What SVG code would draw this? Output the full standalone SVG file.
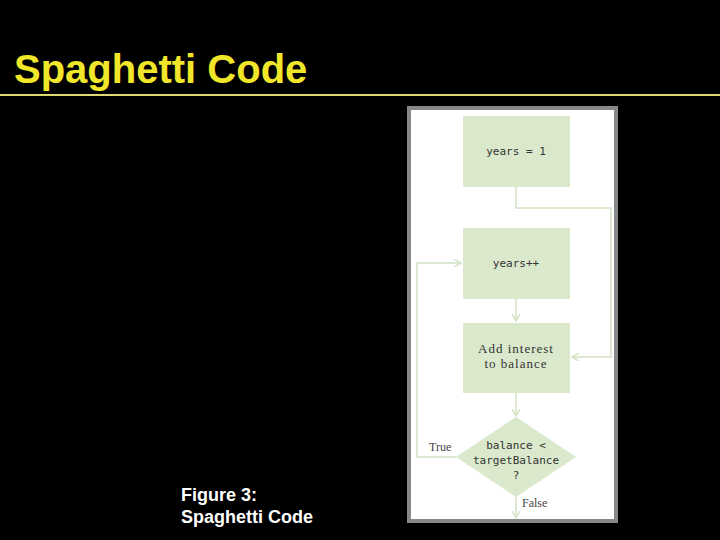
<svg xmlns="http://www.w3.org/2000/svg" width="720" height="540" viewBox="0 0 720 540">
<defs>
<marker id="ah" markerWidth="8" markerHeight="8" refX="7" refY="4" orient="auto" markerUnits="userSpaceOnUse">
<path d="M0,0 L7,4 L0,8" fill="none" stroke="#d3e2c4" stroke-width="1.5"/>
</marker>
<style>
.box{fill:#dae8cc;}
.code{font-family:"DejaVu Sans Mono","Liberation Mono",monospace;font-size:11px;fill:#333;text-anchor:middle;}
.ser{font-family:"Liberation Serif","DejaVu Serif",serif;font-size:13px;fill:#333;text-anchor:middle;letter-spacing:1px;}
.lbl{font-family:"Liberation Serif","DejaVu Serif",serif;font-size:12px;fill:#444;}
.conn{fill:none;stroke:#d3e2c4;stroke-width:1.5;}
</style>
</defs>
<rect width="720" height="540" fill="#000"/>
<text x="14" y="83" font-family="Liberation Sans, Arial, sans-serif" font-weight="bold" font-size="40" fill="#f0e62a">Spaghetti Code</text>
<rect x="0" y="94" width="720" height="2" fill="#e0d870"/>
<text font-family="Liberation Sans, Arial, sans-serif" font-weight="bold" font-size="18" fill="#fff"><tspan x="181" y="501">Figure 3:</tspan><tspan x="181" y="523">Spaghetti Code</tspan></text>
<rect x="409" y="108" width="207" height="413" fill="#fff" stroke="#888" stroke-width="4"/>
<g id="connectors">
<path class="conn" d="M516,187 V208 H611 V357 H572" marker-end="url(#ah)"/>
<path class="conn" d="M516,299 V321" marker-end="url(#ah)"/>
<path class="conn" d="M516,393 V416" marker-end="url(#ah)"/>
<path class="conn" d="M456,457 H417 V263 H461" marker-end="url(#ah)"/>
<path class="conn" d="M516,497 V518" marker-end="url(#ah)"/>
</g>
<g id="n1"><rect class="box" x="463" y="116" width="107" height="71"/><text class="code" x="516" y="155">years = 1</text></g>
<g id="n2"><rect class="box" x="463" y="228" width="107" height="71"/><text class="code" x="516" y="267">years++</text></g>
<g id="n3"><rect class="box" x="463" y="323" width="107" height="70"/><text class="ser" x="516" y="353">Add interest</text><text class="ser" x="516" y="368">to balance</text></g>
<g id="n4"><polygon class="box" points="516,417 576,457 516,497 456,457"/><text class="code" x="516" y="449">balance &lt;</text><text class="code" x="516" y="464">targetBalance</text><text class="code" x="516" y="479">?</text></g>
<text class="lbl" x="429" y="451">True</text>
<text class="lbl" x="522" y="507">False</text>
</svg>
